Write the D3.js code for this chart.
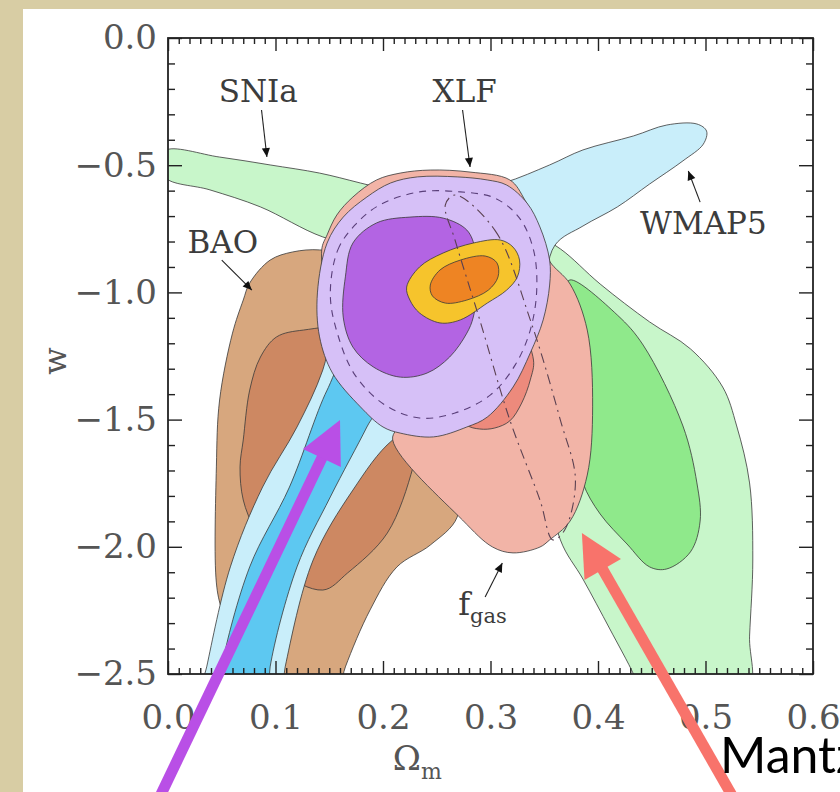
<!DOCTYPE html>
<html>
<head>
<meta charset="utf-8">
<script src="https://cdn.jsdelivr.net/npm/d3@7"></script>
<style>
  body { margin: 0; background: #d8cda4; }
  svg { display: block; }
</style>
</head>
<body>
<script>
// contour outlines, each point is [omega_m, w]
let snia95 = [[-0.003,-0.444],[0.048,-0.468],[0.095,-0.499],[0.141,-0.531],[0.179,-0.570],[0.234,-0.629],
  [0.290,-0.696],[0.337,-0.763],[0.365,-0.829],[0.402,-0.967],[0.448,-1.116],[0.486,-1.222],[0.516,-1.372],
  [0.529,-1.525],[0.541,-1.749],[0.544,-2.052],[0.541,-2.351],[0.539,-2.563],[0.439,-2.563],[0.433,-2.500],
  [0.411,-2.323],[0.386,-2.127],[0.365,-1.973],[0.346,-1.580],[0.309,-1.148],[0.253,-0.912],[0.197,-0.833],
  [0.144,-0.782],[0.086,-0.664],[0.039,-0.597],[-0.003,-0.546]];

let snia68 = [[0.374,-0.951],[0.418,-1.089],[0.442,-1.207],[0.479,-1.525],[0.492,-1.749],[0.495,-1.899],
  [0.486,-2.020],[0.464,-2.087],[0.448,-2.079],[0.427,-1.989],[0.402,-1.871],[0.386,-1.749],[0.379,-1.580],
  [0.379,-1.187],[0.369,-0.991]];

let bao95 = [[0.070,-1.030],[0.076,-0.963],[0.095,-0.873],[0.116,-0.841],[0.141,-0.833],[0.165,-0.857],
  [0.207,-1.030],[0.244,-1.384],[0.267,-1.698],[0.269,-1.883],[0.244,-1.993],[0.213,-2.079],[0.188,-2.248],
  [0.165,-2.472],[0.155,-2.602],[0.076,-2.602],[0.067,-2.445],[0.050,-2.248],[0.045,-2.142],[0.045,-1.686],
  [0.048,-1.423],[0.060,-1.160]];

let bao68 = [[0.126,-1.148],[0.101,-1.175],[0.086,-1.254],[0.076,-1.384],[0.070,-1.580],[0.067,-1.686],
  [0.070,-1.816],[0.081,-1.934],[0.104,-2.091],[0.144,-2.170],[0.167,-2.103],[0.204,-1.946],[0.228,-1.686],
  [0.234,-1.541],[0.216,-1.344],[0.169,-1.148]];

let wmap95 = [[0.312,-0.570],[0.355,-0.499],[0.386,-0.440],[0.433,-0.385],[0.464,-0.342],[0.492,-0.338],
  [0.501,-0.366],[0.498,-0.417],[0.479,-0.483],[0.448,-0.574],[0.418,-0.664],[0.386,-0.739],[0.360,-0.814],
  [0.346,-1.030],[0.309,-1.305],[0.253,-1.482],[0.209,-1.580],[0.172,-1.777],[0.135,-2.052],[0.109,-2.472],
  [0.104,-2.602],[0.030,-2.602],[0.036,-2.472],[0.058,-2.079],[0.088,-1.765],[0.120,-1.529],[0.144,-1.305],
  [0.160,-1.030],[0.207,-0.755],[0.262,-0.617]];

let wmap68 = [[0.047,-2.602],[0.050,-2.472],[0.076,-2.079],[0.113,-1.765],[0.148,-1.384],[0.165,-1.266],
  [0.197,-1.423],[0.185,-1.529],[0.151,-1.804],[0.120,-2.079],[0.095,-2.472],[0.093,-2.602]];

let fgas95 = [[0.209,-1.580],[0.216,-1.502],[0.179,-1.344],[0.155,-1.148],[0.143,-0.833],[0.148,-0.774],
  [0.157,-0.696],[0.172,-0.625],[0.194,-0.558],[0.216,-0.531],[0.244,-0.519],[0.281,-0.527],[0.318,-0.558],
  [0.332,-0.637],[0.349,-0.794],[0.355,-0.877],[0.374,-0.967],[0.390,-1.148],[0.395,-1.450],[0.390,-1.718],
  [0.374,-1.899],[0.355,-1.973],[0.346,-2.001],[0.321,-2.024],[0.302,-2.001],[0.274,-1.895]];

let fgas68 = [[0.278,-1.521],[0.290,-1.537],[0.304,-1.533],[0.318,-1.505],[0.329,-1.435],[0.337,-1.344],
  [0.340,-1.266],[0.327,-1.148],[0.300,-1.148],[0.281,-1.305],[0.272,-1.462]];

let xlf95 = [[0.139,-1.002],[0.148,-0.806],[0.163,-0.704],[0.185,-0.625],[0.207,-0.570],[0.232,-0.546],
  [0.269,-0.546],[0.297,-0.558],[0.315,-0.578],[0.334,-0.649],[0.346,-0.743],[0.355,-0.873],[0.355,-0.971],
  [0.349,-1.108],[0.337,-1.238],[0.321,-1.372],[0.297,-1.490],[0.278,-1.529],[0.247,-1.568],[0.216,-1.553],
  [0.200,-1.529],[0.179,-1.450],[0.153,-1.317],[0.141,-1.175]];

let xlf68 = [[0.172,-0.806],[0.194,-0.727],[0.225,-0.704],[0.256,-0.708],[0.278,-0.755],[0.286,-0.833],
  [0.288,-0.951],[0.284,-1.097],[0.278,-1.160],[0.262,-1.254],[0.241,-1.317],[0.216,-1.333],[0.191,-1.293],
  [0.172,-1.215],[0.163,-1.097],[0.165,-0.939]];

let all95 = [[0.222,-0.979],[0.234,-0.900],[0.256,-0.845],[0.284,-0.806],[0.309,-0.794],[0.321,-0.822],
  [0.327,-0.873],[0.325,-0.939],[0.315,-0.991],[0.297,-1.042],[0.272,-1.108],[0.253,-1.120],[0.234,-1.081],
  [0.225,-1.030]];

let all68 = [[0.244,-0.971],[0.253,-0.912],[0.272,-0.873],[0.295,-0.857],[0.306,-0.884],[0.307,-0.939],
  [0.298,-0.991],[0.278,-1.030],[0.258,-1.042],[0.246,-1.014]];

// dashed comparison contours drawn over the filled ones
let xlfDashed = [[0.151,-1.010],[0.158,-0.833],[0.174,-0.735],[0.197,-0.656],[0.234,-0.605],[0.272,-0.605],
  [0.304,-0.629],[0.327,-0.708],[0.340,-0.833],[0.343,-0.991],[0.337,-1.148],[0.323,-1.285],[0.300,-1.403],
  [0.267,-1.474],[0.234,-1.494],[0.202,-1.443],[0.174,-1.325],[0.158,-1.167]];

let fgasDashDot = [[0.267,-0.617],[0.304,-0.755],[0.337,-1.108],[0.365,-1.502],[0.379,-1.737],[0.369,-1.934],
  [0.358,-1.973],[0.346,-1.816],[0.318,-1.502],[0.290,-1.108],[0.267,-0.794],[0.258,-0.656]];

// labels: [text, omega_m, w]
let labels = [["SNIa", 0.084, -0.252], ["XLF", 0.276, -0.252], ["BAO", 0.051, -0.845], ["WMAP5", 0.498, -0.770]];

// small pointer arrows: [from, to]
let pointers = [
  [[0.087, -0.283], [0.092, -0.468]],
  [[0.274, -0.283], [0.281, -0.507]],
  [[0.050, -0.873], [0.078, -0.991]],
  [[0.495, -0.645], [0.484, -0.523]],
  [[0.295, -2.197], [0.311, -2.064]]
];

// big slide arrows: [tail, tip]
let purpleArrow = [[-0.009, -2.995], [0.160, -1.502]];
let redArrow = [[0.527, -2.995], [0.385, -1.946]];

let xTicks = [0, 0.1, 0.2, 0.3, 0.4, 0.5, 0.6];
let yTicks = [0, -0.5, -1.0, -1.5, -2.0, -2.5];


let width = 840;
let height = 792;
let margin = ({top: 38, right: 27, bottom: 118, left: 168});

let x = d3.scaleLinear()
  .domain([0, 0.6])
  .range([margin.left, width - margin.right]);

let y = d3.scaleLinear()
  .domain([-2.5, 0])
  .range([height - margin.bottom, margin.top]);

let svg = d3.select("body")
  .append("svg")
  .attr("width", width)
  .attr("height", height);

// white slide panel
svg.append("rect")
  .attr("x", 23)
  .attr("y", 9)
  .attr("width", width - 23)
  .attr("height", height - 9)
  .attr("fill", "#fff");

svg.append("clipPath")
  .attr("id", "plot")
  .append("rect")
  .attr("x", x(0))
  .attr("y", y(0))
  .attr("width", x(0.6) - x(0))
  .attr("height", y(-2.5) - y(0));

let contour = d3.line()
  .x(d => x(d[0]))
  .y(d => y(d[1]))
  .curve(d3.curveCatmullRomClosed.alpha(0.5));

// drawing order, back to front
let layers = [
  {pts: snia95, fill: "#c8f6ca"},
  {pts: snia68, fill: "#8fe98b"},
  {pts: bao95, fill: "#d7a77e"},
  {pts: bao68, fill: "#cd8862"},
  {pts: wmap95, fill: "#c9eefa"},
  {pts: wmap68, fill: "#5dc8f1"},
  {pts: fgas95, fill: "#f2b4a7"},
  {pts: fgas68, fill: "#ed8a7c"},
  {pts: xlf95, fill: "#d6c0f7"},
  {pts: xlf68, fill: "#b364e3"},
  {pts: all95, fill: "#f6c42c"},
  {pts: all68, fill: "#ee8423"}
];

let plot = svg.append("g")
  .attr("clip-path", "url(#plot)");

plot.selectAll("path.contour")
  .data(layers)
  .join("path")
  .attr("class", "contour")
  .attr("d", d => contour(d.pts))
  .attr("fill", d => d.fill)
  .attr("stroke", "#3a3a3a")
  .attr("stroke-opacity", 0.8)
  .attr("stroke-width", 1);

plot.append("path")
  .attr("d", contour(xlfDashed))
  .attr("fill", "none")
  .attr("stroke", "#5a3f7a")
  .attr("stroke-width", 1.1)
  .attr("stroke-dasharray", "7,6");

plot.append("path")
  .attr("d", contour(fgasDashDot))
  .attr("fill", "none")
  .attr("stroke", "#5a4050")
  .attr("stroke-width", 1.1)
  .attr("stroke-dasharray", "10,5,2,5");

// axes, ticks point inward on all four sides
let xMinor = d3.range(0, 61).map(i => i / 100).filter(v => Math.round(v * 100) % 10 != 0);
let yMinor = d3.range(0, 26).map(i => -i / 10).filter(v => Math.round(v * 10) % 5 != 0);

function styleAxis(g) {
  g.select(".domain").remove();
  g.selectAll(".tick line").attr("stroke", "#222").attr("stroke-width", 1.4);
  g.selectAll("text")
    .attr("fill", "#555")
    .attr("font-family", "DejaVu Serif")
    .attr("font-size", 34);
}

svg.append("g")
  .attr("transform", `translate(0,${y(-2.5)})`)
  .call(d3.axisBottom(x).tickValues(xTicks).tickSize(-13).tickPadding(31).tickFormat(d3.format(".1f")))
  .call(styleAxis);

svg.append("g")
  .attr("transform", `translate(0,${y(-2.5)})`)
  .call(d3.axisBottom(x).tickValues(xMinor).tickSize(-6).tickFormat(""))
  .call(styleAxis);

svg.append("g")
  .attr("transform", `translate(0,${y(0)})`)
  .call(d3.axisTop(x).tickValues(xTicks).tickSize(-13).tickFormat(""))
  .call(styleAxis);

svg.append("g")
  .attr("transform", `translate(0,${y(0)})`)
  .call(d3.axisTop(x).tickValues(xMinor).tickSize(-6).tickFormat(""))
  .call(styleAxis);

svg.append("g")
  .attr("transform", `translate(${x(0)},0)`)
  .call(d3.axisLeft(y).tickValues(yTicks).tickSize(-14).tickPadding(11).tickFormat(d3.format(".1f")))
  .call(styleAxis);

svg.append("g")
  .attr("transform", `translate(${x(0)},0)`)
  .call(d3.axisLeft(y).tickValues(yMinor).tickSize(-7).tickFormat(""))
  .call(styleAxis);

svg.append("g")
  .attr("transform", `translate(${x(0.6)},0)`)
  .call(d3.axisRight(y).tickValues(yTicks).tickSize(-14).tickFormat(""))
  .call(styleAxis);

svg.append("g")
  .attr("transform", `translate(${x(0.6)},0)`)
  .call(d3.axisRight(y).tickValues(yMinor).tickSize(-7).tickFormat(""))
  .call(styleAxis);

svg.append("rect")
  .attr("x", x(0))
  .attr("y", y(0))
  .attr("width", x(0.6) - x(0))
  .attr("height", y(-2.5) - y(0))
  .attr("fill", "none")
  .attr("stroke", "#222")
  .attr("stroke-width", 1.8);

// axis titles
svg.append("text")
  .attr("x", x(0.232))
  .attr("y", y(-2.5) + 96)
  .attr("text-anchor", "middle")
  .attr("font-family", "DejaVu Serif")
  .attr("font-size", 34)
  .attr("fill", "#555")
  .text("Ω")
  .append("tspan")
  .attr("font-size", 22)
  .attr("dy", 9)
  .text("m");

svg.append("text")
  .attr("transform", `translate(${66},${y(-1.27)}) rotate(-90)`)
  .attr("text-anchor", "middle")
  .attr("font-family", "DejaVu Serif")
  .attr("font-size", 32)
  .attr("fill", "#555")
  .text("w");

// contour labels and their pointers
svg.append("defs")
  .append("marker")
  .attr("id", "head")
  .attr("viewBox", "0 -5 10 10")
  .attr("refX", 10)
  .attr("markerUnits", "userSpaceOnUse")
  .attr("markerWidth", 11)
  .attr("markerHeight", 9)
  .attr("orient", "auto")
  .append("path")
  .attr("d", "M0,-4.5L10,0L0,4.5Z")
  .attr("fill", "#111");

svg.append("g")
  .selectAll("text")
  .data(labels)
  .join("text")
  .attr("x", d => x(d[1]))
  .attr("y", d => y(d[2]))
  .attr("text-anchor", "middle")
  .attr("font-family", "DejaVu Serif")
  .attr("font-size", 31)
  .attr("fill", "#3c3c3c")
  .text(d => d[0]);

svg.append("text")
  .attr("x", x(0.270))
  .attr("y", y(-2.268))
  .attr("font-family", "DejaVu Serif")
  .attr("font-size", 32)
  .attr("fill", "#3c3c3c")
  .text("f")
  .append("tspan")
  .attr("font-size", 21)
  .attr("dy", 8)
  .text("gas");

svg.append("g")
  .selectAll("line")
  .data(pointers)
  .join("line")
  .attr("x1", d => x(d[0][0]))
  .attr("y1", d => y(d[0][1]))
  .attr("x2", d => x(d[1][0]))
  .attr("y2", d => y(d[1][1]))
  .attr("stroke", "#222")
  .attr("stroke-width", 1.1)
  .attr("marker-end", "url(#head)");

// thick coloured arrows laid over the slide
function bigArrow(a, color) {
  let x0 = x(a[0][0]), y0 = y(a[0][1]), x1 = x(a[1][0]), y1 = y(a[1][1]);
  let len = Math.hypot(x1 - x0, y1 - y0);
  let ux = (x1 - x0) / len, uy = (y1 - y0) / len;
  let bx = x1 - ux * 42, by = y1 - uy * 42;
  svg.append("line")
    .attr("x1", x0).attr("y1", y0)
    .attr("x2", bx + ux * 4).attr("y2", by + uy * 4)
    .attr("stroke", color)
    .attr("stroke-width", 11);
  svg.append("path")
    .attr("d", `M${x1},${y1}L${bx - uy * 21},${by + ux * 21}L${bx + uy * 21},${by - ux * 21}Z`)
    .attr("fill", color);
}

bigArrow(purpleArrow, "#b94fe6");
bigArrow(redArrow, "#f8736b");

svg.append("text")
  .attr("x", 720)
  .attr("y", 773)
  .attr("font-family", "Lato")
  .attr("font-size", 50)
  .attr("fill", "#000")
  .text("Mantz");
</script>
</body>
</html>
